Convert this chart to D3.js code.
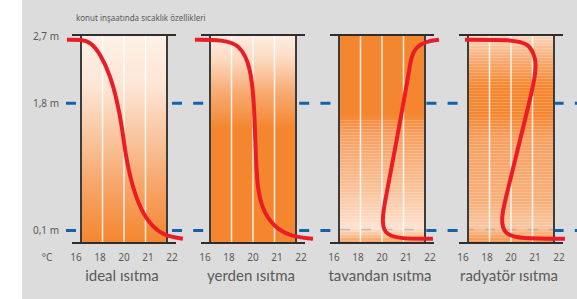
<!DOCTYPE html>
<html>
<head>
<meta charset="utf-8">
<script src="https://cdn.jsdelivr.net/npm/d3@7"></script>
<style>
  body { margin: 0; background: #fff; }
  svg { display: block; font-family: "Noto Sans", sans-serif; }
</style>
</head>
<body>
<svg id="chart" width="577" height="299"></svg>
<script>
// Temperature profile by height for four heating types
const panels = ["ideal ısıtma", "yerden ısıtma", "tavandan ısıtma", "radyatör ısıtma"];
const tempTicks = [16, 18, 20, 21, 22];
const heightMarks = [2.7, 1.8, 0.1];
const heightLabels = ["2,7 m", "1,8 m", "0,1 m"];
const guideHeights = [1.8, 0.1];

// [temperature °C, height m]
const idealCurve = [[14.7, 2.65], [16, 2.65], [16.9, 2.62], [17.8, 2.46], [18.7, 2.18], [19.35, 1.84],
  [19.8, 1.5], [20.05, 1.15], [20.35, 0.72], [20.8, 0.36], [21.35, 0.14], [21.9, 0.03], [22.74, -0.01]];
const floorCurve = [[14.6, 2.65], [17.2, 2.65], [18.8, 2.58], [19.75, 2.3], [20.05, 1.84], [20.12, 1.18],
  [20.2, 0.64], [20.5, 0.33], [21.16, 0.1], [22.0, 0.01], [22.79, -0.01]];
const ceilingCurve = [[22.65, 2.65], [22.09, 2.63], [21.6, 2.56], [21.35, 2.42], [21.25, 2.2], [20.6, 1.18],
  [20.3, 0.72], [19.95, 0.26], [20.1, 0.06], [20.7, -0.01], [22.37, -0.01]];
const radiatorCurve = [[15.72, 2.65], [20.09, 2.65], [20.85, 2.6], [21.15, 2.4], [21.2, 2.2], [20.3, 1.18],
  [19.85, 0.72], [19.0, 0.26], [19.35, 0.05], [20.4, -0.01], [22.51, -0.01]];
const curves = [idealCurve, floorCurve, ceilingCurve, radiatorCurve];

const CONFIG = {
  bg: "#dcdcdc",
  orange: "#f4862f",
  red: "#ec1c26",
  blue: "#0f63ae",
  text: "#5a5a5a",
  boxBottom: 243,
  overhang: 9,
};

// gradient stops per panel (offset, colour)
const fills = [
  [[0, "#fdf1e8"], [0.25, "#fde5d4"], [0.5, "#f9c49c"], [0.75, "#f6a263"], [1, "#f4862f"]],
  [[0, "#fdeee3"], [0.12, "#fcd9bf"], [0.28, "#f7aa70"], [0.45, "#f4862f"], [1, "#f4862f"]],
  [[0, "#f4862f"], [0.38, "#f4862f"], [0.48, "#f6a062"], [0.75, "#fac39b"], [0.93, "#fde2cf"], [1, "#f59a52"]],
  [[0, "#fbd7bb"], [0.12, "#f7ab72"], [0.25, "#f4862f"], [0.38, "#f4862f"], [0.5, "#f6a062"], [0.8, "#f7b07a"], [0.92, "#f9c6a2"], [1, "#f4903f"]],
];

const svg = d3.select("#chart");
const W = 577, H = 299;

svg.append("rect").attr("x", 22).attr("y", 0).attr("width", W - 22).attr("height", H).attr("fill", CONFIG.bg);

const defs = svg.append("defs");
fills.forEach((stops, i) => {
  const g = defs.append("linearGradient").attr("id", "fill" + i)
    .attr("x1", 0).attr("y1", 0).attr("x2", 0).attr("y2", 1);
  g.selectAll("stop").data(stops).enter().append("stop")
    .attr("offset", d => d[0]).attr("stop-color", d => d[1]);
});
// faint horizontal streaks used in the last two panels
const pat = defs.append("pattern").attr("id", "streaks").attr("patternUnits", "userSpaceOnUse")
  .attr("width", 6).attr("height", 3);
pat.append("rect").attr("width", 6).attr("height", 1).attr("fill", "#fff").attr("opacity", 0.18);

const y = d3.scaleLinear().domain([0, 2.7]).range([238, 36]);
const panelX = d3.scaleBand().domain(panels).range([81, 554]).paddingInner(43 / 129).paddingOuter(0);
const bw = panelX.bandwidth();
const x = d3.scaleLinear().domain(tempTicks).range(tempTicks.map((d, i) => i * bw / 4));
const tickX = d3.scalePoint().domain(tempTicks).range([-5, bw + 5]);

// Title
svg.append("text").attr("x", 76).attr("y", 21).attr("font-size", 8).attr("fill", CONFIG.text)
  .text("konut inşaatında sıcaklık özellikleri");

// Height labels
svg.selectAll(".hlabel").data(heightMarks).enter().append("text")
  .attr("class", "hlabel")
  .attr("x", 59).attr("y", d => y(d) + 3.5)
  .attr("text-anchor", "end").attr("font-size", 10).attr("fill", CONFIG.text)
  .text((d, i) => heightLabels[i]);
svg.append("text").attr("x", 47).attr("y", 261).attr("text-anchor", "middle")
  .attr("font-size", 10).attr("fill", CONFIG.text).text("°C");

// Blue dashed guides behind the boxes
svg.selectAll(".guide").data(guideHeights).enter().append("line")
  .attr("class", "guide")
  .attr("x1", 66).attr("x2", W)
  .attr("y1", d => y(d)).attr("y2", d => y(d))
  .attr("stroke", CONFIG.blue).attr("stroke-width", 3)
  .attr("stroke-dasharray", "10 11.2");

const line = d3.line().x(d => x(d[0])).y(d => y(d[1])).curve(d3.curveBasis);

const boxTop = y(2.7) - 1;

panels.forEach((name, i) => {
  const g = svg.append("g").attr("transform", `translate(${panelX(name)},0)`);

  g.append("rect").attr("x", 0).attr("y", boxTop).attr("width", bw)
    .attr("height", CONFIG.boxBottom - boxTop).attr("fill", `url(#fill${i})`);

  if (i >= 2) {
    const from = i === 2 ? y(1.6) : boxTop;
    g.append("rect").attr("x", 0).attr("y", from).attr("width", bw)
      .attr("height", CONFIG.boxBottom - from).attr("fill", "url(#streaks)");
    // 0,1 m guide showing through faintly
    g.append("line").attr("x1", 0).attr("x2", bw).attr("y1", y(0.1) - 1).attr("y2", y(0.1) - 1)
      .attr("stroke", "#9a9a9a").attr("stroke-opacity", 0.55).attr("stroke-width", 1.5)
      .attr("stroke-dasharray", "10 11.2").attr("stroke-dashoffset", i === 2 ? -1 : 4);
  }

  // white column dividers
  g.selectAll(".div").data(tempTicks.slice(1, -1)).enter().append("line")
    .attr("x1", d => x(d)).attr("x2", d => x(d))
    .attr("y1", boxTop).attr("y2", CONFIG.boxBottom)
    .attr("stroke", "#fff").attr("stroke-opacity", 0.85).attr("stroke-width", 1.5);

  // box sides
  g.selectAll(".side").data([0, bw]).enter().append("line")
    .attr("x1", d => d).attr("x2", d => d)
    .attr("y1", boxTop).attr("y2", CONFIG.boxBottom)
    .attr("stroke", "#3c3c3c").attr("stroke-width", 2);
  g.selectAll(".cap").data([boxTop, CONFIG.boxBottom]).enter().append("line")
    .attr("x1", -CONFIG.overhang).attr("x2", bw + CONFIG.overhang)
    .attr("y1", d => d).attr("y2", d => d)
    .attr("stroke", "#2e2e2e").attr("stroke-width", 2);

  // temperature profile
  g.append("path").datum(curves[i]).attr("d", line)
    .attr("fill", "none").attr("stroke", CONFIG.red).attr("stroke-width", 4)
    .attr("stroke-linecap", "butt").attr("stroke-linejoin", "round");

  // tick labels
  g.selectAll(".tick").data(tempTicks).enter().append("text")
    .attr("x", d => tickX(d)).attr("y", 261)
    .attr("text-anchor", "middle").attr("font-size", 10).attr("fill", CONFIG.text)
    .text(d => d);

  g.append("text").attr("x", bw / 2 - 2).attr("y", 281)
    .attr("text-anchor", "middle").attr("font-family", "Lato, sans-serif")
    .attr("font-size", 15).attr("fill", CONFIG.text)
    .text(name);
});
</script>
</body>
</html>
